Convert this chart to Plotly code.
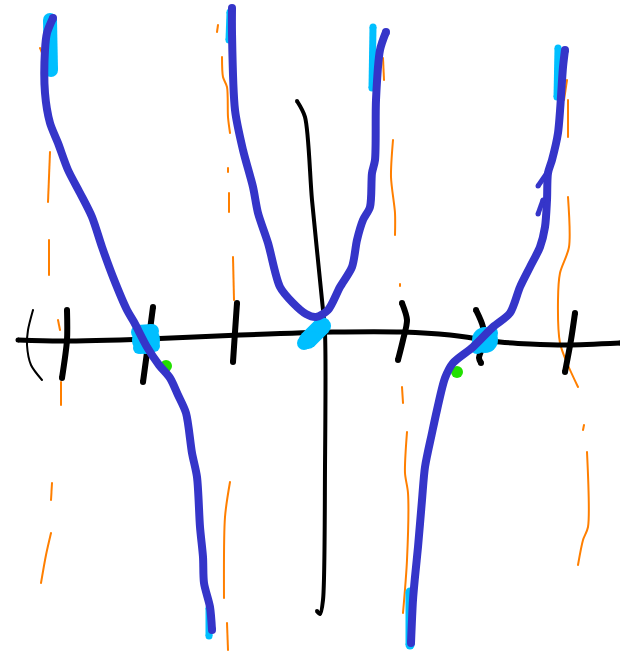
import plotly.graph_objects as go

# Sketch canvas: x grows to the right, y grows downward (0..620, 0..651)

# Hand-drawn x-axis and y-axis
x_axis_x = [18, 60, 148, 240, 333, 403, 450, 500, 530, 567, 620]
x_axis_y = [340, 341, 339, 335, 332, 332, 335, 342, 344, 345, 343]
y_axis_x = [297, 305, 312, 322, 325, 325, 323, 320, 317]
y_axis_y = [101, 117, 200, 300, 333, 467, 600, 614, 611]

# Tick marks along the x-axis
ticks = [
    ([67, 67, 62], [310, 340, 378]),
    ([153, 148, 143], [307, 345, 382]),
    ([237, 235, 233], [303, 332, 362]),
    ([402, 407, 403, 398], [303, 320, 340, 360]),
    ([476, 483, 483, 479, 481], [310, 327, 345, 358, 363]),
    ([575, 571, 565], [313, 340, 372]),
]
paren_x = [33, 28, 27, 31, 42]
paren_y = [310, 330, 345, 365, 380]

# Dashed vertical asymptotes (each sublist is one dash)
asymptote_dashes = [
    ([40, 42], [48, 53]),
    ([50, 48], [152, 202]),
    ([49, 49], [240, 275]),
    ([58, 60], [320, 330]),
    ([61, 61], [382, 405]),
    ([52, 51], [483, 500]),
    ([51, 46, 41], [533, 555, 583]),
    ([218, 217], [25, 32]),
    ([222, 223, 227, 228, 230], [57, 77, 87, 117, 133]),
    ([228, 228], [168, 172]),
    ([229, 229], [193, 212]),
    ([233, 234], [257, 300]),
    ([230, 225, 224], [482, 517, 598]),
    ([227, 228], [623, 650]),
    ([383, 384], [58, 80]),
    ([393, 391, 395, 395], [140, 177, 213, 235]),
    ([400, 400], [284, 286]),
    ([402, 403], [387, 403]),
    ([407, 405, 408, 407, 403], [432, 473, 493, 560, 613]),
    ([567, 564], [80, 100]),
    ([568, 568], [100, 137]),
    ([568, 569, 560, 558, 560, 567, 578], [197, 247, 273, 300, 343, 363, 387]),
    ([584, 583], [425, 430]),
    ([587, 588, 583, 578], [452, 527, 540, 565]),
]

# Graph branches
left_branch_x = [53, 47, 45, 45, 50, 58, 68, 80, 92, 102, 113, 127, 134, 147,
                 159, 170, 178, 186, 192, 197, 200, 203, 204, 210, 212]
left_branch_y = [18, 33, 50, 93, 123, 143, 170, 193, 217, 247, 277, 310, 322, 347,
                 365, 378, 395, 413, 453, 477, 527, 557, 583, 607, 630]
middle_branch_x = [232, 232, 235, 243, 253, 258, 268, 280, 293, 306, 316, 328, 340,
                   352, 357, 363, 370, 372, 375, 376, 380, 386]
middle_branch_y = [8, 33, 110, 150, 187, 213, 243, 287, 303, 314, 317, 310, 287,
                   267, 240, 220, 207, 173, 160, 100, 50, 32]
right_branch_x = [565, 563, 558, 552, 548, 547, 545, 540, 530, 520, 510, 493, 473,
                  453, 445, 437, 432, 425, 422, 418, 415, 413, 411]
right_branch_y = [50, 67, 133, 160, 173, 200, 227, 247, 267, 287, 313, 327, 347,
                  363, 378, 410, 433, 467, 500, 547, 577, 600, 643]
right_spurs = [
    ([547, 538], [173, 186]),
    ([543, 538], [200, 214]),
]

# Light-blue highlights at the branch ends and axis crossings
end_highlights = [
    ([50, 51], [20, 70], 14),
    ([230, 229], [12, 40], 7),
    ([373, 372], [27, 88], 7),
    ([558, 557], [48, 97], 7),
    ([209, 209], [608, 636], 7),
    ([410, 410], [592, 645], 9),
]
crossing_x = [146, 485]
crossing_y = [340, 340]
crossing_size = [28, 26]
crossing_streaks = [
    ([308, 322], [340, 326], 18),
    ([304, 310], [343, 338], 14),
    ([138, 152], [332, 331], 14),
    ([139, 154], [348, 346], 12),
    ([477, 491], [347, 333], 14),
]

# Green points just below the crossings
green_x = [166, 457]
green_y = [366, 372]

BLACK = "#000000"
ORANGE = "#ff7f00"
BLUE = "#3535c9"
LIGHT = "#00bfff"
GREEN = "#22e000"

fig = go.Figure()


def stroke(xs, ys, color, width):
    fig.add_trace(go.Scatter(
        x=xs, y=ys, mode="lines",
        line=dict(color=color, width=width, shape="spline", smoothing=0.8),
        hoverinfo="skip", showlegend=False,
    ))
    # round end caps
    fig.add_trace(go.Scatter(
        x=[xs[0], xs[-1]], y=[ys[0], ys[-1]], mode="markers",
        marker=dict(color=color, size=width, line=dict(width=0)),
        hoverinfo="skip", showlegend=False,
    ))


for xs, ys in asymptote_dashes:
    stroke(xs, ys, ORANGE, 2)

stroke(x_axis_x, x_axis_y, BLACK, 5)
stroke(y_axis_x, y_axis_y, BLACK, 4)
for xs, ys in ticks:
    stroke(xs, ys, BLACK, 6)
stroke(paren_x, paren_y, BLACK, 2)

for xs, ys, w in end_highlights:
    stroke(xs, ys, LIGHT, w)
for xs, ys, w in crossing_streaks:
    stroke(xs, ys, LIGHT, w)
fig.add_trace(go.Scatter(
    x=crossing_x, y=crossing_y, mode="markers",
    marker=dict(color=LIGHT, size=crossing_size, opacity=1, line=dict(width=0)),
    hoverinfo="skip", showlegend=False,
))
fig.add_trace(go.Scatter(
    x=green_x, y=green_y, mode="markers",
    marker=dict(color=GREEN, size=12, opacity=1, line=dict(width=0)),
    hoverinfo="skip", showlegend=False,
))

stroke(left_branch_x, left_branch_y, BLUE, 8)
stroke(middle_branch_x, middle_branch_y, BLUE, 8)
stroke(right_branch_x, right_branch_y, BLUE, 8)
for xs, ys in right_spurs:
    stroke(xs, ys, BLUE, 5)

fig.update_layout(
    width=620, height=651, autosize=False,
    margin=dict(l=0, r=0, t=0, b=0),
    paper_bgcolor="white", plot_bgcolor="white",
    xaxis=dict(range=[0, 620], visible=False, fixedrange=True),
    yaxis=dict(range=[651, 0], visible=False, fixedrange=True),
)

fig.write_html("out.html", config={"displayModeBar": False})
